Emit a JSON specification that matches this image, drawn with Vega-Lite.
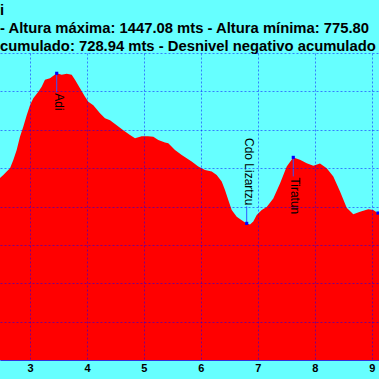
{
  "$schema": "https://vega.github.io/schema/vega-lite/v6.json",
  "usermeta": {"embedOptions": {"actions": false}},
  "autosize": {"type": "none"},
  "width": 379,
  "height": 307,
  "padding": {"left": 0, "right": 0, "top": 53, "bottom": 19},
  "background": "#66ffff",
  "config": {
    "view": {"stroke": null, "fill": "#66ffff"},
    "font": "Liberation Sans"
  },
  "title": {
    "text": ["i", "\u00a0- Altura máxima: 1447.08 mts - Altura mínima: 775.80", "cumulado: 728.94 mts - Desnivel negativo acumulado"],
    "anchor": "start",
    "frame": "group",
    "font": "Liberation Sans",
    "fontSize": 14.8,
    "fontWeight": "bold",
    "color": "#000000",
    "lineHeight": 18,
    "offset": 3,
    "dy": 4
  },
  "datasets": {
    "profile": [
      {"km": 2.385, "elev": 1166},
      {"km": 2.473, "elev": 1174},
      {"km": 2.531, "elev": 1182},
      {"km": 2.591, "elev": 1191},
      {"km": 2.649, "elev": 1200},
      {"km": 2.707, "elev": 1221},
      {"km": 2.766, "elev": 1247},
      {"km": 2.824, "elev": 1282},
      {"km": 2.882, "elev": 1308},
      {"km": 2.942, "elev": 1338},
      {"km": 3.000, "elev": 1364},
      {"km": 3.058, "elev": 1382},
      {"km": 3.146, "elev": 1399},
      {"km": 3.205, "elev": 1412},
      {"km": 3.263, "elev": 1430},
      {"km": 3.351, "elev": 1434},
      {"km": 3.469, "elev": 1447.08},
      {"km": 3.557, "elev": 1443},
      {"km": 3.644, "elev": 1446},
      {"km": 3.732, "elev": 1443},
      {"km": 3.790, "elev": 1430},
      {"km": 3.878, "elev": 1408},
      {"km": 3.966, "elev": 1386},
      {"km": 4.024, "elev": 1373},
      {"km": 4.112, "elev": 1364},
      {"km": 4.229, "elev": 1343},
      {"km": 4.317, "elev": 1330},
      {"km": 4.405, "elev": 1325},
      {"km": 4.522, "elev": 1312},
      {"km": 4.638, "elev": 1299},
      {"km": 4.756, "elev": 1286},
      {"km": 4.844, "elev": 1278},
      {"km": 4.961, "elev": 1283},
      {"km": 5.072, "elev": 1283},
      {"km": 5.165, "elev": 1282},
      {"km": 5.253, "elev": 1273},
      {"km": 5.370, "elev": 1267},
      {"km": 5.428, "elev": 1265},
      {"km": 5.546, "elev": 1247},
      {"km": 5.664, "elev": 1234},
      {"km": 5.839, "elev": 1217},
      {"km": 5.955, "elev": 1204},
      {"km": 6.073, "elev": 1195},
      {"km": 6.191, "elev": 1191},
      {"km": 6.278, "elev": 1182},
      {"km": 6.366, "elev": 1165},
      {"km": 6.424, "elev": 1143},
      {"km": 6.482, "elev": 1117},
      {"km": 6.542, "elev": 1091},
      {"km": 6.630, "elev": 1073},
      {"km": 6.717, "elev": 1064},
      {"km": 6.805, "elev": 1056},
      {"km": 6.863, "elev": 1053},
      {"km": 6.921, "elev": 1061},
      {"km": 6.981, "elev": 1078},
      {"km": 7.069, "elev": 1091},
      {"km": 7.156, "elev": 1099},
      {"km": 7.272, "elev": 1121},
      {"km": 7.390, "elev": 1160},
      {"km": 7.508, "elev": 1204},
      {"km": 7.623, "elev": 1228},
      {"km": 7.741, "elev": 1222},
      {"km": 7.859, "elev": 1213},
      {"km": 7.975, "elev": 1206},
      {"km": 8.092, "elev": 1212},
      {"km": 8.210, "elev": 1200},
      {"km": 8.326, "elev": 1178},
      {"km": 8.444, "elev": 1139},
      {"km": 8.561, "elev": 1097},
      {"km": 8.677, "elev": 1080},
      {"km": 8.795, "elev": 1086},
      {"km": 8.940, "elev": 1093},
      {"km": 9.028, "elev": 1091},
      {"km": 9.116, "elev": 1082},
      {"km": 9.234, "elev": 1070}
    ],
    "waypoints": [
      {"name": "Adi", "km": 3.469, "elev": 1447.08, "side": "below"},
      {"name": "Cdo Lizartzu", "km": 6.805, "elev": 1056, "side": "above"},
      {"name": "Tiratun", "km": 7.623, "elev": 1228, "side": "below"},
      {"name": "", "km": 9.111, "elev": 1083, "side": "none"}
    ]
  },
  "encoding": {
    "x": {
      "field": "km",
      "type": "quantitative",
      "scale": {"domain": [2.4732, 9.1283], "nice": false, "zero": false},
      "axis": {
        "title": null,
        "values": [3, 4, 5, 6, 7, 8, 9],
        "format": "d",
        "grid": true,
        "gridColor": "#0000ff",
        "gridOpacity": 0.5,
        "gridDash": [2, 2],
        "gridWidth": 1,
        "ticks": false,
        "domain": true,
        "domainColor": "#3333dd",
        "domainWidth": 1,
        "labelFont": "Liberation Sans",
        "labelFontSize": 11,
        "labelFontWeight": "bold",
        "labelColor": "#000000",
        "labelPadding": 2,
        "zindex": 1
      }
    },
    "y": {
      "field": "elev",
      "type": "quantitative",
      "scale": {"domain": [700, 1500], "nice": false, "zero": false},
      "axis": {
        "title": null,
        "values": [700, 800, 900, 1000, 1100, 1200, 1300, 1400, 1500],
        "labels": false,
        "ticks": false,
        "domain": false,
        "grid": true,
        "gridColor": "#0000ff",
        "gridOpacity": 0.5,
        "gridDash": [2, 2],
        "gridWidth": 1,
        "zindex": 1
      }
    }
  },
  "layer": [
    {
      "data": {"name": "profile"},
      "mark": {"type": "area", "color": "#ff0000", "clip": true, "interpolate": "linear"},
      "encoding": {"y2": {"datum": 700}}
    },
    {
      "data": {"name": "waypoints"},
      "transform": [{"filter": {"field": "side", "equal": "below"}}],
      "mark": {"type": "rule", "color": "#3355ff", "strokeWidth": 1, "y2Offset": 19},
      "encoding": {"y2": {"field": "elev"}}
    },
    {
      "data": {"name": "waypoints"},
      "transform": [{"filter": {"field": "side", "equal": "above"}}],
      "mark": {"type": "rule", "color": "#3355ff", "strokeWidth": 1, "y2Offset": -17},
      "encoding": {"y2": {"field": "elev"}}
    },
    {
      "data": {"name": "waypoints"},
      "mark": {"type": "point", "shape": "square", "filled": true, "size": 10, "color": "#0000ff", "opacity": 1, "clip": true}
    },
    {
      "data": {"name": "waypoints"},
      "transform": [{"filter": {"field": "side", "equal": "below"}}],
      "mark": {"type": "text", "angle": 90, "align": "left", "baseline": "middle", "dx": 20, "dy": -2, "font": "Liberation Sans", "fontSize": 12, "color": "#000000"},
      "encoding": {"text": {"field": "name"}}
    },
    {
      "data": {"name": "waypoints"},
      "transform": [{"filter": {"field": "side", "equal": "above"}}],
      "mark": {"type": "text", "angle": 90, "align": "right", "baseline": "middle", "dx": -18, "dy": -2, "font": "Liberation Sans", "fontSize": 12, "color": "#000000"},
      "encoding": {"text": {"field": "name"}}
    }
  ]
}
